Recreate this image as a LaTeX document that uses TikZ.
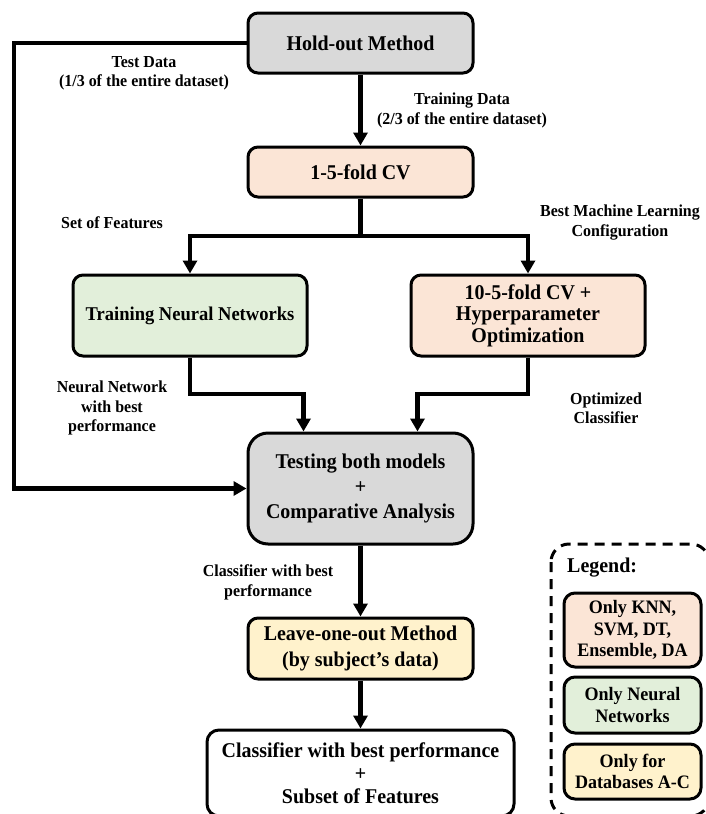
\documentclass[tikz,border=0pt]{standalone}
\usepackage{fontspec}
\setmainfont{Liberation Serif}[FakeStretch=0.95]
\usetikzlibrary{arrows.meta}
\definecolor{boxgray}{HTML}{D9D9D9}
\definecolor{boxpeach}{HTML}{FBE5D6}
\definecolor{boxgreen}{HTML}{E2EFDA}
\definecolor{boxyellow}{HTML}{FFF2CC}
\begin{document}
\begin{tikzpicture}[x=1pt,y=-1pt,
  stepbox/.style={draw, line width=3pt, rounded corners=10pt, align=center,
    inner sep=0pt, font=\bfseries\fontsize{21}{25}\selectfont},
  conn/.style={line width=4.5pt, -{Triangle[width=14pt,length=13pt]}},
  link/.style={line width=4.5pt},
  lbl/.style={align=center, inner sep=0pt, font=\bfseries\fontsize{16.8}{19.5}\selectfont},
  keybox/.style={draw, line width=3pt, rounded corners=11pt, align=center,
    inner sep=0pt, minimum width=137pt, font=\bfseries\fontsize{19}{21.5}\selectfont}
]
\useasboundingbox (0,0) rectangle (705,814);

% main flow boxes
\node[stepbox, fill=boxgray, minimum width=225pt, minimum height=60pt] (hold) at (360.5,43) {Hold-out Method};
\node[stepbox, fill=boxpeach, minimum width=225pt, minimum height=50pt] (cv) at (360.5,172) {1-5-fold CV};
\node[stepbox, fill=boxgreen, minimum width=234pt, minimum height=81pt,
  font=\bfseries\fontsize{19.5}{24}\selectfont] (tnn) at (190,315.5) {Training Neural Networks};
\node[stepbox, fill=boxpeach, minimum width=234pt, minimum height=81pt,
  font=\bfseries\fontsize{21}{21.5}\selectfont] (hpo) at (528,315.5) {10-5-fold CV +\\Hyperparameter\\Optimization};
\node[stepbox, fill=boxgray, rounded corners=20pt, minimum width=225pt, minimum height=111pt] (test) at (360.5,488.5) {Testing both models\\+\\Comparative Analysis};
\node[stepbox, fill=boxyellow, minimum width=225pt, minimum height=61pt,
  font=\bfseries\fontsize{21}{26}\selectfont] (loo) at (360.5,648.5) {Leave-one-out Method\\(by subject’s data)};
\node[stepbox, fill=white, rounded corners=12pt, minimum width=307pt, minimum height=86pt,
  font=\bfseries\fontsize{21}{23}\selectfont] (final) at (360.5,773) {Classifier with best performance\\+\\Subset of Features};

% connector labels
\node[lbl] (lbtest) at (144,73.5) {Test Data\\(1/3 of the entire dataset)};
\node[lbl] (lbtrain) at (462,110.5) {Training Data\\(2/3 of the entire dataset)};
\node[lbl] (lbfeat) at (112,223) {Set of Features};
\node[lbl] (lbbest) at (620,222.5) {Best Machine Learning\\Configuration};
\node[lbl] (lbnn) at (112,408) {Neural Network\\with best\\performance};
\node[lbl] (lbopt) at (606,408) {Optimized\\Classifier};
\node[lbl] (lbcls) at (268,582.5) {Classifier with best\\performance};

% connectors
\coordinate (split) at (360.5,236);
\coordinate (mrow) at (0,394);
\coordinate (lft) at (14,43);
\path (test.north west) ++(57,0) coordinate (tinL);
\path (test.north east) ++(-57,0) coordinate (tinR);

\draw[conn] (hold.south) -- (cv.north);
\draw[link] (cv.south) -- (split);
\draw[conn] (split) -| (tnn.north);
\draw[conn] (split) -| (hpo.north);
\draw[conn] (tnn.south) -- (tnn.south |- mrow) -| (tinL);
\draw[conn] (hpo.south) -- (hpo.south |- mrow) -| (tinR);
\draw[conn] (hold.west) -- (lft) |- (test.west);
\draw[conn] (test.south) -- (loo.north);
\draw[conn] (loo.south) -- (final.north);

% legend
\draw[line width=3pt, dash pattern=on 10pt off 7pt, rounded corners=18pt] (551,544) rectangle (709,816);
\node[anchor=west, inner sep=0pt, font=\bfseries\fontsize{21}{24}\selectfont] (legtitle) at (567,568) {Legend:};
\node[keybox, fill=boxpeach, minimum height=74pt] (key1) at (632.5,630) {Only KNN,\\SVM, DT,\\Ensemble, DA};
\node[keybox, fill=boxgreen, minimum height=56pt] (key2) at (632.5,705) {Only Neural\\Networks};
\node[keybox, fill=boxyellow, minimum height=55pt] (key3) at (632.5,771.5) {Only for\\Databases A-C};
\end{tikzpicture}
\end{document}
